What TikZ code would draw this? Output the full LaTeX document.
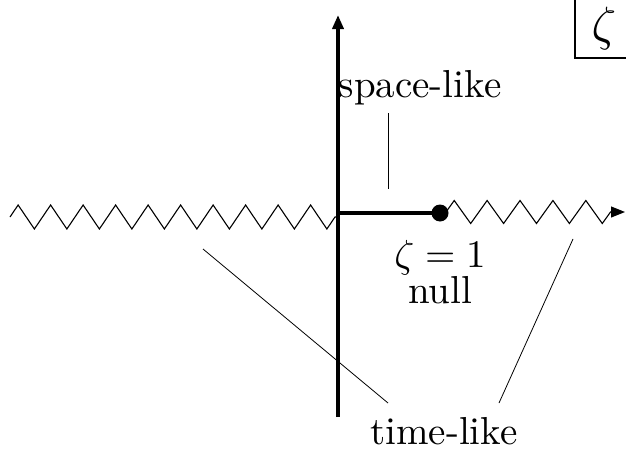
\documentclass[tikz,border=0pt]{standalone}
\usepackage{graphicx}
\usetikzlibrary{arrows.meta,decorations.pathmorphing}
\tikzset{
  axisline/.style={line width=3.5pt,-{Triangle[length=14pt,width=11pt]}},
  thickline/.style={line width=3.5pt},
  zz/.style={line width=1.1pt,decorate,decoration={zigzag,amplitude=12pt,segment length=32.5pt}},
  zzr/.style={line width=1.1pt,-{Triangle[length=14pt,width=11pt]},decorate,decoration={zigzag,amplitude=11.5pt,segment length=32.9pt,post=lineto,post length=14pt}},
  pointer/.style={line width=0.8pt},
  lab/.style={anchor=base,inner sep=0pt},
}
\newcommand{\bigtxt}[1]{\scalebox{3.9}{\fontsize{10}{12}\selectfont #1}}
\begin{document}
\begin{tikzpicture}[x=1pt,y=-1pt]
\useasboundingbox (0,0) rectangle (626,455);
% coordinates
\coordinate (axbot) at (338,417);
\coordinate (axtop) at (338,15);
\coordinate (orig) at (338,213);
\coordinate (zlstart) at (10,217);
\coordinate (zlend) at (336,217);
\coordinate (zrstart) at (446,212);
\coordinate (zrend) at (625,212);
% zigzags
\draw[zz] (zlstart) -- (zlend);
\draw[zzr] (zrstart) -- (zrend);
% axes
\draw[axisline] (axbot) -- (axtop);
\node[circle,fill,inner sep=0pt,minimum size=17pt] (dot) at (440,213) {};
\draw[thickline] (orig) -- (dot.center);
% corner box
\draw[line width=1.3pt] (575,0) -- (575,58) -- (626,58);
\node[lab] (zbox) at (604,40) {\scalebox{4.8}{$\zeta$}};
% labels
\node[lab] (sl) at (420,97) {\bigtxt{space-like}};
\node[lab] (zeq) at (440,267) {\bigtxt{$\zeta=1$}};
\node[lab] (nl) at (440,303) {\bigtxt{null}};
\node[lab] (tl) at (444,444) {\bigtxt{time-like}};
% pointers
\coordinate (sp1) at (388,113);
\coordinate (sp2) at (388,189);
\draw[pointer] (sp1) -- (sp2);
\coordinate (tla) at (203,249);
\coordinate (tlb) at (388,403);
\coordinate (tlc) at (573,239);
\coordinate (tld) at (499,403);
\draw[pointer] (tla) -- (tlb);
\draw[pointer] (tlc) -- (tld);
\end{tikzpicture}
\end{document}
